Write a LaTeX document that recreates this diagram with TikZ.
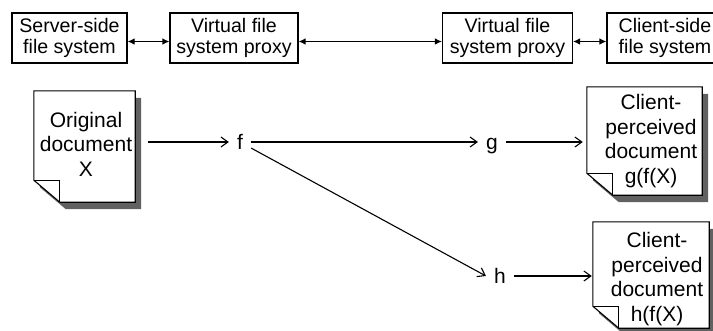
\documentclass[tikz,border=0pt]{standalone}
\usepackage{fontspec}
\setmainfont{Liberation Sans}
\usetikzlibrary{arrows.meta}
\begin{document}
\begin{tikzpicture}[x=1pt,y=-1pt,
  fsbox/.style={draw,line width=1.1pt,minimum width=#1,minimum height=50pt,inner sep=0pt,
    align=center,font=\fontsize{19.6}{21.8}\selectfont},
  dbl/.style={{Latex[length=7pt,width=6.5pt]}-{Latex[length=7pt,width=6.5pt]},line width=1.1pt},
  arr/.style={-{Straight Barb[length=7pt,width=10pt]},line width=1.1pt},
  docbox/.style={minimum width=#1,inner sep=0pt,draw=none},
  doctext/.style={align=center,font=\fontsize{21}{24.5}\selectfont,inner sep=0pt},
  fn/.style={font=\fontsize{21}{24}\selectfont,inner sep=8pt,text height=15pt,text depth=0pt},
  shadowc/.style={fill=black!62}
]
\useasboundingbox (0,0) rectangle (713,330);

% top row
\node[fsbox=115pt] (b1) at (69.5,38) {Server-side\\file system};
\node[fsbox=128pt] (b2) at (234,38) {Virtual file\\system proxy};
\node[fsbox=130pt] (b3) at (507.5,38) {Virtual file\\system proxy};
\node[fsbox=116pt] (b4) at (665,38) {Client-side\\file system};
\draw[dbl] ([yshift=-3.5pt]b1.east) -- ([yshift=-3.5pt]b2.west);
\draw[dbl] ([yshift=-3.5pt]b2.east) -- ([yshift=-3.5pt]b3.west);
\draw[dbl] ([yshift=-3.5pt]b3.east) -- ([yshift=-3.5pt]b4.west);

% documents
\node[docbox=101pt,minimum height=111pt] (X) at (84.5,146.5) {};
\node[docbox=115pt,minimum height=108pt] (D2) at (644.5,141) {};
\node[docbox=116pt,minimum height=106pt] (D3) at (651,275) {};
\foreach \n in {X,D2,D3} {
  \fill[shadowc] ([xshift=6pt,yshift=-7pt]\n.north west) -- ([xshift=6pt,yshift=-7pt]\n.north east)
    -- ([xshift=6pt,yshift=-7pt]\n.south east) -- ([xshift=32pt,yshift=-7pt]\n.south west)
    -- ([xshift=6pt,yshift=15pt]\n.south west) -- cycle;
  \filldraw[fill=white,line width=1.1pt,line join=miter] (\n.north west) -- (\n.north east) -- (\n.south east)
    -- ([xshift=26pt]\n.south west) -- ([yshift=22pt]\n.south west) -- cycle;
  \draw[line width=1.1pt] ([yshift=22pt]\n.south west) -- ([xshift=26pt,yshift=22pt]\n.south west)
    -- ([xshift=26pt]\n.south west);
}
\node[doctext] (tX) at (86,144) {Original\\document\\X};
\node[doctext] (t2) at (651,141) {Client-\\perceived\\document\\g(f(X)};
\node[doctext] (t3) at (657,279) {Client-\\perceived\\document\\h(f(X)};

% functions
\node[fn] (f) at (240,142) {f};
\node[fn] (g) at (492,142) {g};
\node[fn] (h) at (500,276) {h};

\draw[arr,shorten <=13pt] (f.west -| X.east) -- (f.west);
\draw[arr] (f.east) -- (g.west);
\draw[arr,shorten >=4pt] (g.east) -- (g.east -| D2.west);
\draw[arr] (f) -- (h.west);
\draw[arr,shorten >=1pt] (h.east) -- (h.east -| D3.west);
\end{tikzpicture}
\end{document}
